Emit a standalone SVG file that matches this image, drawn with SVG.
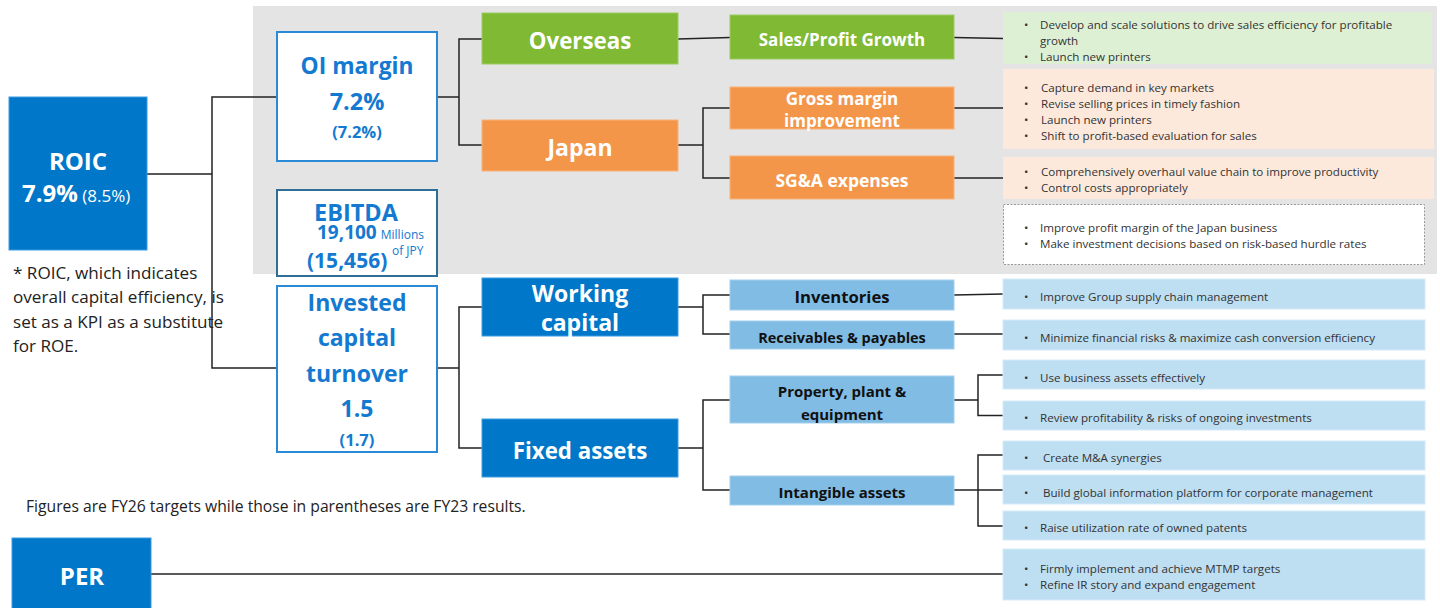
<svg xmlns="http://www.w3.org/2000/svg" width="1440" height="608" viewBox="0 0 1440 608">
<style>
text{font-family:"Open Sans","Noto Sans","Liberation Sans",sans-serif}
.dk{fill:#0077c8;stroke:#3d9be0;stroke-width:1}
.wb{fill:#ffffff;stroke:#2a8ad8;stroke-width:2}
.gr{fill:#80b934;stroke:#9ccb62;stroke-width:1}
.or{fill:#f4964a;stroke:#f8b27a;stroke-width:1}
.lb{fill:#80bce4;stroke:#a3d0ee;stroke-width:1}
.tg{fill:#def0d4}
.to{fill:#fde9dc}
.tb{fill:#bedef2;stroke:#d6ebf8;stroke-width:1}
.wt{fill:#ffffff;font-weight:700;text-anchor:middle}
.bt{fill:#1479d0;font-weight:700;text-anchor:middle}
.kt{fill:#111111;font-weight:700;text-anchor:middle}
.st{fill:#333333;font-size:11.6px}
.conn path{fill:none;stroke:#222222;stroke-width:1.5}
</style>
<rect x="253" y="6" width="1184" height="268" fill="#e4e4e4"/>
<g class="conn" id="connectors">
<path d="M147 174H212M277 97H212V368H277"/>
<path d="M437 97H459M482 39H459V145H482"/>
<path d="M437 368H459M482 307H459V448H482"/>
<path d="M678 39L730 37.5"/>
<path d="M678 145H703M730 108H703V178H730"/>
<path d="M678 307H703M730 295H703V334H730"/>
<path d="M678 448H703M730 400H703V490H730"/>
<path d="M954 37.5L1003 38.5"/>
<path d="M954 108H1003"/>
<path d="M954 178H1003"/>
<path d="M954 295L1003 294"/>
<path d="M954 334H1003"/>
<path d="M954 400H978M1003 375H978V415.5H1003"/>
<path d="M954 490H1003M1003 455H978V526H1003"/>
<path d="M151 574H1003"/>
</g>
<g id="roic">
<rect class="dk" x="9" y="97" width="138" height="153"/>
<text class="wt" x="78" y="170" font-size="24">ROIC</text>
<text x="22" y="202" fill="#fff" font-size="24" font-weight="700">7.9%<tspan font-weight="400" font-size="17"> (8.5%)</tspan></text>
</g>
<g id="note">
<text x="13" y="279" font-size="17.1" fill="#222">* ROIC, which indicates</text>
<text x="13" y="303" font-size="17.1" fill="#222">overall capital efficiency, is</text>
<text x="13" y="328" font-size="17.1" fill="#222">set as a KPI as a substitute</text>
<text x="13" y="352" font-size="17.1" fill="#222">for ROE.</text>
</g>
<g id="figures-note">
<text x="26" y="512" font-size="15.7" fill="#222">Figures are FY26 targets while those in parentheses are FY23 results.</text>
</g>
<g id="per">
<rect class="dk" x="12" y="538" width="139" height="80"/>
<text class="wt" x="82" y="585" font-size="24">PER</text>
</g>
<g id="oi-margin">
<rect class="wb" x="277" y="32" width="160" height="129"/>
<text class="bt" x="357" y="74" font-size="22.8">OI margin</text>
<text class="bt" x="357" y="110" font-size="23.5">7.2%</text>
<text class="bt" x="357" y="138" font-size="16.5">(7.2%)</text>
</g>
<g id="ebitda">
<rect x="277" y="190" width="160" height="86" fill="#fff" stroke="#2f6e96" stroke-width="2"/>
<text class="bt" x="356" y="220.5" font-size="23.5">EBITDA</text>
<text x="317" y="239" fill="#1479d0" font-size="19" font-weight="700">19,100<tspan font-size="12" font-weight="400" dx="4">Millions</tspan></text>
<text x="307" y="268" fill="#1479d0" font-size="21" font-weight="700">(15,456)</text>
<text x="392" y="255" fill="#1479d0" font-size="12">of JPY</text>
</g>
<g id="invested">
<rect class="wb" x="277" y="286" width="160" height="166"/>
<text class="bt" x="357" y="311" font-size="23">Invested</text>
<text class="bt" x="357" y="346" font-size="23">capital</text>
<text class="bt" x="357" y="382" font-size="23">turnover</text>
<text class="bt" x="357" y="417" font-size="23">1.5</text>
<text class="bt" x="357" y="446" font-size="16.5">(1.7)</text>
</g>
<g id="overseas">
<rect class="gr" x="482" y="13" width="196" height="51"/>
<text class="wt" x="580" y="49" font-size="22.3">Overseas</text>
</g>
<g id="japan">
<rect class="or" x="482" y="120" width="196" height="51"/>
<text class="wt" x="580" y="156" font-size="23">Japan</text>
</g>
<g id="working">
<rect class="dk" x="482" y="278" width="196" height="58"/>
<text class="wt" x="580" y="302" font-size="23">Working</text>
<text class="wt" x="580" y="331" font-size="23">capital</text>
</g>
<g id="fixed">
<rect class="dk" x="482" y="419" width="196" height="58"/>
<text class="wt" x="580" y="459" font-size="22.3">Fixed assets</text>
</g>
<g id="sales">
<rect class="gr" x="730" y="15" width="224" height="44"/>
<text class="wt" x="842" y="46" font-size="17">Sales/Profit Growth</text>
</g>
<g id="gross">
<rect class="or" x="730" y="87" width="224" height="42"/>
<text class="wt" x="842" y="105" font-size="17">Gross margin</text>
<text class="wt" x="842" y="127" font-size="17">improvement</text>
</g>
<g id="sga">
<rect class="or" x="730" y="156" width="224" height="43"/>
<text class="wt" x="842" y="187" font-size="17.5">SG&amp;A expenses</text>
</g>
<g id="inventories">
<rect class="lb" x="730" y="280" width="224" height="30"/>
<text class="kt" x="842" y="303" font-size="16.7">Inventories</text>
</g>
<g id="receivables">
<rect class="lb" x="730" y="321" width="224" height="28"/>
<text class="kt" x="842" y="343" font-size="14.5">Receivables &amp; payables</text>
</g>
<g id="ppe">
<rect class="lb" x="730" y="376" width="224" height="47"/>
<text class="kt" x="842" y="397" font-size="15">Property, plant &amp;</text>
<text class="kt" x="842" y="420" font-size="15">equipment</text>
</g>
<g id="intangible">
<rect class="lb" x="730" y="476" width="224" height="29"/>
<text class="kt" x="842" y="498" font-size="15">Intangible assets</text>
</g>
<g id="t-sales">
<rect class="tg" x="1003" y="12" width="429" height="52"/>
<text class="st" x="1024" y="29">•</text><text class="st" x="1040" y="29">Develop and scale solutions to drive sales efficiency for profitable</text>
<text class="st" x="1040" y="45">growth</text>
<text class="st" x="1024" y="61">•</text><text class="st" x="1040" y="61">Launch new printers</text>
</g>
<g id="t-gross">
<rect class="to" x="1003" y="69" width="431" height="80"/>
<text class="st" x="1024" y="92">•</text><text class="st" x="1041" y="92">Capture demand in key markets</text>
<text class="st" x="1024" y="108">•</text><text class="st" x="1041" y="108">Revise selling prices in timely fashion</text>
<text class="st" x="1024" y="124">•</text><text class="st" x="1041" y="124">Launch new printers</text>
<text class="st" x="1024" y="140">•</text><text class="st" x="1041" y="140">Shift to profit-based evaluation for sales</text>
</g>
<g id="t-sga">
<rect class="to" x="1003" y="157" width="431" height="42"/>
<text class="st" x="1024" y="176">•</text><text class="st" x="1041" y="176">Comprehensively overhaul value chain to improve productivity</text>
<text class="st" x="1024" y="192">•</text><text class="st" x="1041" y="192">Control costs appropriately</text>
</g>
<g id="t-japan">
<rect x="1003.5" y="204.5" width="421" height="60" fill="#fff" stroke="#999" stroke-width="1" stroke-dasharray="2 1.5"/>
<text class="st" x="1024" y="232">•</text><text class="st" x="1040" y="232">Improve profit margin of the Japan business</text>
<text class="st" x="1024" y="248">•</text><text class="st" x="1040" y="248">Make investment decisions based on risk-based hurdle rates</text>
</g>
<g id="t-inv">
<rect class="tb" x="1003" y="279" width="422" height="30"/>
<text class="st" x="1024" y="301">•</text><text class="st" x="1040" y="301">Improve Group supply chain management</text>
</g>
<g id="t-rec">
<rect class="tb" x="1003" y="320" width="422" height="30"/>
<text class="st" x="1024" y="342">•</text><text class="st" x="1040" y="342">Minimize financial risks &amp; maximize cash conversion efficiency</text>
</g>
<g id="t-ppe1">
<rect class="tb" x="1003" y="360" width="422" height="29"/>
<text class="st" x="1024" y="382">•</text><text class="st" x="1040" y="382">Use business assets effectively</text>
</g>
<g id="t-ppe2">
<rect class="tb" x="1003" y="401" width="422" height="29"/>
<text class="st" x="1024" y="422">•</text><text class="st" x="1040" y="422">Review profitability &amp; risks of ongoing investments</text>
</g>
<g id="t-int1">
<rect class="tb" x="1003" y="441" width="422" height="29"/>
<text class="st" x="1024" y="462">•</text><text class="st" x="1043" y="462">Create M&amp;A synergies</text>
</g>
<g id="t-int2">
<rect class="tb" x="1003" y="475" width="422" height="29"/>
<text class="st" x="1024" y="497">•</text><text class="st" x="1043" y="497">Build global information platform for corporate management</text>
</g>
<g id="t-int3">
<rect class="tb" x="1003" y="511" width="422" height="29"/>
<text class="st" x="1024" y="532">•</text><text class="st" x="1040" y="532">Raise utilization rate of owned patents</text>
</g>
<g id="t-per">
<rect class="tb" x="1003" y="549" width="422" height="51"/>
<text class="st" x="1024" y="573">•</text><text class="st" x="1040" y="573">Firmly implement and achieve MTMP targets</text>
<text class="st" x="1024" y="589">•</text><text class="st" x="1040" y="589">Refine IR story and expand engagement</text>
</g>
</svg>
